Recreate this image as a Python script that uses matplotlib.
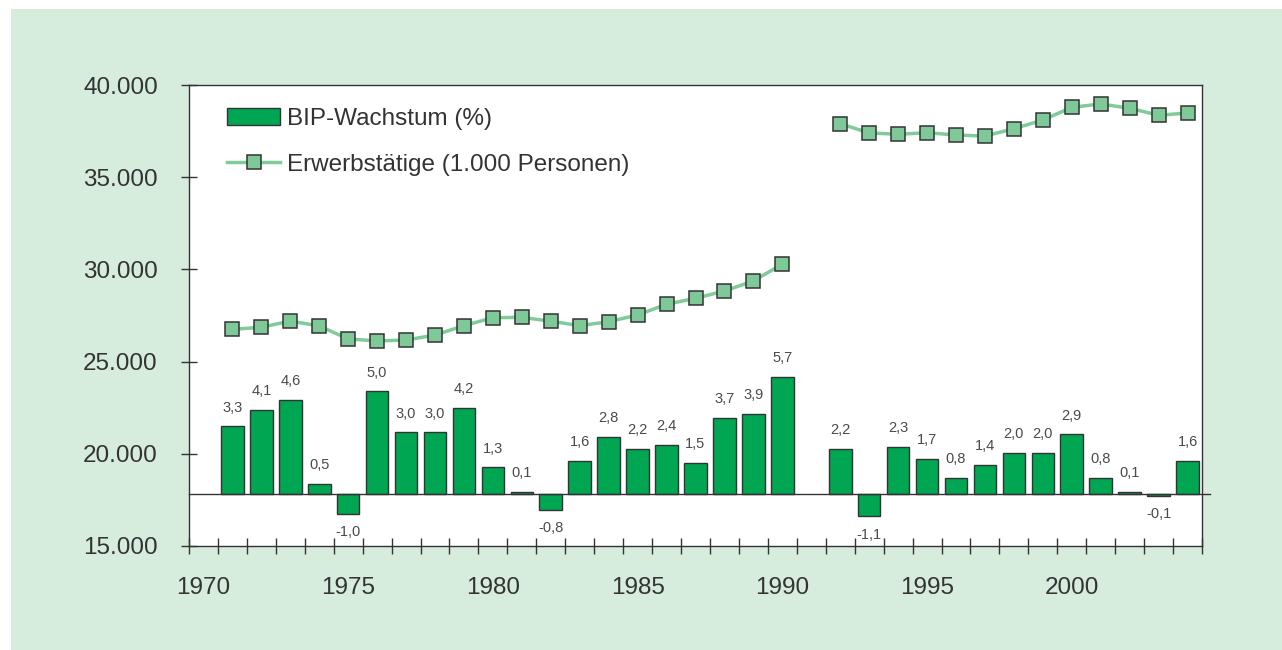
import numpy as np
import matplotlib
matplotlib.use("Agg")
import matplotlib.pyplot as plt
from matplotlib.patches import Rectangle, Patch
from matplotlib.lines import Line2D
from matplotlib.ticker import FuncFormatter, FixedLocator

plt.rcParams['font.family'] = ['Liberation Sans', 'DejaVu Sans']

# Daten
jahre = list(range(1970, 2005))
bip_wachstum = [np.nan, 3.3, 4.1, 4.6, 0.5, -1.0, 5.0, 3.0, 3.0, 4.2, 1.3,
                0.1, -0.8, 1.6, 2.8, 2.2, 2.4, 1.5, 3.7, 3.9, 5.7,
                np.nan, 2.2, -1.1, 2.3, 1.7, 0.8, 1.4, 2.0, 2.0, 2.9,
                0.8, 0.1, -0.1, 1.6]
erwerbstaetige = [np.nan, 26750, 26860, 27200, 26930, 26230, 26120, 26170,
                  26440, 26950, 27380, 27400, 27190, 26950, 27160, 27530,
                  28110, 28430, 28830, 29370, 30290,
                  np.nan, 37900, 37400, 37330, 37410, 37290, 37230, 37630,
                  38100, 38790, 38970, 38740, 38360, 38480]
y_ticks = [15000, 20000, 25000, 30000, 35000, 40000]
x_labels = [1970, 1975, 1980, 1985, 1990, 1995, 2000]

# Farben
bg_green = '#d6ecdc'
bar_green = '#00a651'
line_green = '#80cb9a'
dark = '#333333'

fig = plt.figure(figsize=(12.82, 6.5), dpi=100, facecolor='white')
fig.patches.append(Rectangle((11 / 1282, 0), 1, 1 - 9 / 650, transform=fig.transFigure,
                             facecolor=bg_green, edgecolor='none', zorder=-10))

ax = fig.add_axes([189 / 1282, 1 - 546 / 650, (1202 - 189) / 1282, (546 - 85) / 650])
ax.set_facecolor('white')
ax.set_xlim(1969.5, 2004.5)
ax.set_ylim(15000, 40000)

for s in ax.spines.values():
    s.set_color(dark)
    s.set_linewidth(1.0)

ax.set_yticks(y_ticks)
ax.yaxis.set_major_formatter(FuncFormatter(lambda v, p: f"{v:,.0f}".replace(',', '.')))
ax.tick_params(axis='y', direction='inout', length=12, width=1.0, color=dark,
               labelsize=17.5, labelcolor=dark, pad=16.5)

ax.set_xticks(x_labels)
ax.set_xticklabels([str(j) for j in x_labels])
ax.xaxis.set_minor_locator(FixedLocator(np.arange(1969.5, 2005, 1.0)))
ax.tick_params(axis='x', which='major', length=0, labelsize=17.5, labelcolor=dark, pad=22.5)
ax.tick_params(axis='x', which='minor', direction='inout', length=11, width=1.0, color=dark)

# Erwerbstätige (Linie)
ax.plot(jahre, erwerbstaetige, color=line_green, linewidth=2.5, marker='s',
        markersize=10, markerfacecolor='#7fc998', markeredgecolor=dark,
        markeredgewidth=1.1, zorder=4)

# BIP-Wachstum (Balken) auf zweiter Achse
ax2 = ax.twinx()
ax2.set_ylim(-2.54, 19.95)
ax2.axis('off')
jb = [j for j, v in zip(jahre, bip_wachstum) if not np.isnan(v)]
vb = [v for v in bip_wachstum if not np.isnan(v)]
ax2.bar(jb, vb, width=0.78, color=bar_green, edgecolor=dark, linewidth=1.0, zorder=3)
ax2.axhline(0, xmin=0, xmax=(1210 - 189) / (1202 - 189), color=dark, linewidth=1.0,
            clip_on=False, zorder=4)

for j, v in zip(jb, vb):
    off = 13.5 if v >= 0 else -13
    ax2.annotate(f"{v:.1f}".replace('.', ','), (j, v), xytext=(0, off),
                 textcoords='offset points', ha='center', va='center',
                 fontsize=10.5, color='#4a4a4a')

# Legende
handles = [Patch(facecolor=bar_green, edgecolor=dark, linewidth=1.0),
           Line2D([], [], color=line_green, linewidth=2.5, marker='s', markersize=10,
                  markerfacecolor='#7fc998', markeredgecolor=dark, markeredgewidth=1.1)]
labels = ['BIP-Wachstum (%)', 'Erwerbstätige (1.000 Personen)']
leg = ax2.legend(handles, labels, loc='upper left', bbox_to_anchor=(0.0375, 0.951),
                 frameon=False, fontsize=17.5, handlelength=2.2, handleheight=0.7,
                 handletextpad=0.25, labelspacing=1.0, borderpad=0, borderaxespad=0)
for t in leg.get_texts():
    t.set_color(dark)

fig.savefig('out.png', dpi=100, facecolor=fig.get_facecolor())
